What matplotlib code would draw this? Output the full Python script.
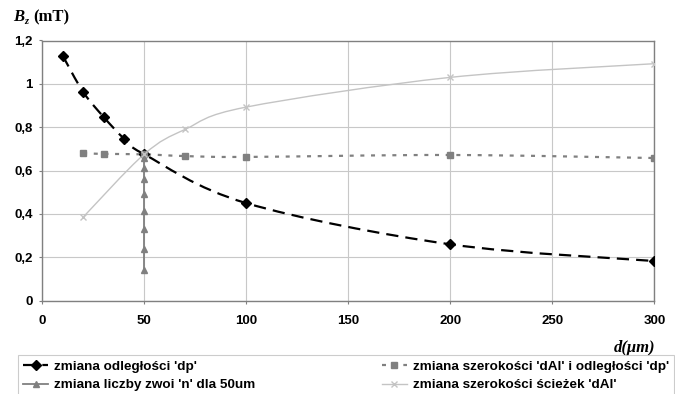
import matplotlib
matplotlib.use("Agg")
import matplotlib.pyplot as plt
from matplotlib.path import Path
from matplotlib.patches import PathPatch
from matplotlib.lines import Line2D
from matplotlib.ticker import MultipleLocator, FuncFormatter

# --- data: B_z (mT) versus distance d (um) ---
d_dp = [10, 20, 30, 40, 50, 100, 200, 300]
bz_dp = [1.13, 0.963, 0.848, 0.748, 0.675, 0.45, 0.26, 0.183]

d_dal_dp = [20, 30, 50, 70, 100, 200, 300]
bz_dal_dp = [0.68, 0.677, 0.675, 0.667, 0.663, 0.672, 0.658]

d_n = [50, 50, 50, 50, 50, 50, 50, 50, 50]
bz_n = [0.142, 0.237, 0.330, 0.415, 0.492, 0.560, 0.612, 0.657, 0.676]

d_dal = [20, 50, 70, 100, 200, 300]
bz_dal = [0.385, 0.676, 0.79, 0.893, 1.03, 1.093]

labels = [
    "zmiana odległości 'dp'",
    "zmiana szerokości 'dAl' i odległości 'dp'",
    "zmiana liczby zwoi 'n' dla 50um",
    "zmiana szerokości ścieżek 'dAl'",
]

x_ticks = [0, 50, 100, 150, 200, 250, 300]

plt.rcParams["font.family"] = ["Liberation Sans", "DejaVu Sans"]
plt.rcParams["font.weight"] = "bold"

W, H = 675, 394
fig = plt.figure(figsize=(W / 100, H / 100), dpi=100)
ax = fig.add_axes([42.3 / W, 1 - 300.7 / H, (654.3 - 42.3) / W, (300.7 - 40.5) / H])


def smooth_path(x, y):
    """Cardinal-spline (smoothed line) through the points, as cubic Beziers."""
    pts = list(zip(x, y))
    n = len(pts)
    verts = [pts[0]]
    codes = [Path.MOVETO]
    for i in range(n - 1):
        p0 = pts[i - 1] if i > 0 else pts[i]
        p1 = pts[i]
        p2 = pts[i + 1]
        p3 = pts[i + 2] if i + 2 < n else pts[i + 1]
        c1 = (p1[0] + (p2[0] - p0[0]) / 6, p1[1] + (p2[1] - p0[1]) / 6)
        c2 = (p2[0] - (p3[0] - p1[0]) / 6, p2[1] - (p3[1] - p1[1]) / 6)
        verts += [c1, c2, p2]
        codes += [Path.CURVE4] * 3
    return Path(verts, codes)


styles = [
    dict(color="black", lw=1.6, ls=(0, (5.5, 3.2)), marker="D", ms=5.0, mfc="black"),
    dict(color="#808080", lw=1.6, ls=(0, (1.8, 3.0)), marker="s", ms=4.4, mfc="#808080"),
    dict(color="#808080", lw=1.3, ls="-", marker="^", ms=4.5, mfc="#808080"),
    dict(color="#c4c4c4", lw=1.0, ls="-", marker="x", ms=4.5, mfc="#c4c4c4"),
]

series = [(d_dp, bz_dp, True), (d_dal_dp, bz_dal_dp, True), (d_n, bz_n, False), (d_dal, bz_dal, True)]

handles = []
for (xs, ys, smooth), st in zip(series, styles):
    if smooth:
        patch = PathPatch(smooth_path(xs, ys), fill=False, edgecolor=st["color"],
                          lw=st["lw"], ls=st["ls"], zorder=3)
        ax.add_patch(patch)
    else:
        ax.plot(xs, ys, color=st["color"], lw=st["lw"], ls=st["ls"], zorder=3)
    ax.plot(xs, ys, ls="none", marker=st["marker"], ms=st["ms"], mfc=st["mfc"],
            mec=st["color"], mew=1.0, zorder=4)
    handles.append(Line2D([], [], color=st["color"], lw=st["lw"], ls=st["ls"],
                          marker=st["marker"], ms=st["ms"], mfc=st["mfc"], mec=st["color"]))

ax.set_xlim(0, 300)
ax.set_ylim(0, 1.2)
ax.set_xticks(x_ticks)
ax.yaxis.set_major_locator(MultipleLocator(0.2))
ax.yaxis.set_major_formatter(FuncFormatter(lambda v, p: f"{v:.1f}".rstrip("0").rstrip(".").replace(".", ",") if v else "0"))
ax.grid(True, color="#c8c8c8", lw=0.8, zorder=0)
ax.set_axisbelow(True)
for s in ax.spines.values():
    s.set_color("#808080")
    s.set_linewidth(1.0)
ax.tick_params(direction="out", length=2.5, width=0.8, color="#808080", labelsize=9.5)
ax.tick_params(axis="y", pad=4.3)
ax.tick_params(axis="x", pad=8)

# axis titles
serif = ["Liberation Serif", "DejaVu Serif"]
fig.text(13 / W, 1 - 21 / H, "B", family=serif, style="italic", weight="bold", size=12, va="baseline")
fig.text(24.5 / W, 1 - 24 / H, "z", family=serif, style="italic", weight="bold", size=7.5, va="baseline")
fig.text(33 / W, 1 - 21 / H, "(mT)", family=serif, weight="bold", size=12, va="baseline")
fig.text(655 / W, 1 - 348 / H, "d(μm)", family=serif, style="italic", weight="bold",
         size=12, ha="right", va="center")

order = [0, 2, 1, 3]
leg = fig.legend([handles[i] for i in order], [labels[i] for i in order],
                 loc="upper left", bbox_to_anchor=(18 / W, 1 - 355 / H), ncol=2,
                 frameon=True, fancybox=False, edgecolor="#c0c0c0", fontsize=9.7,
                 handlelength=1.85, handletextpad=0.45, columnspacing=9.35,
                 borderpad=0.4, labelspacing=0.45, borderaxespad=0)
leg.get_frame().set_linewidth(0.8)

fig.savefig("out.png", dpi=100)
